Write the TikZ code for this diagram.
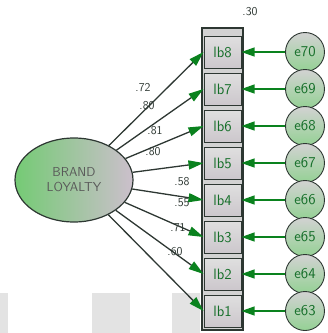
\documentclass[tikz,border=0pt]{standalone}
\usetikzlibrary{arrows.meta,shapes.geometric}
\definecolor{dg}{RGB}{20,110,40}
\definecolor{ag}{RGB}{10,130,30}
\definecolor{lc}{RGB}{45,55,50}
\tikzset{
  obs/.style={draw=lc, line width=1pt, minimum width=37pt, minimum height=32pt, inner sep=0pt,
    top color=gray!25, bottom color=violet!10!gray!40, text=dg, font=\sffamily\fontsize{15}{15}\selectfont},
  err/.style={circle, draw=lc, line width=0.9pt, minimum size=39pt, inner sep=0pt,
    top color=gray!35, bottom color=green!40!gray!60, text=dg, font=\sffamily\fontsize{15}{15}\selectfont},
  lat/.style={ellipse, draw=lc, line width=1.2pt, minimum width=118pt, minimum height=84pt,
    left color=green!45!gray!75, right color=violet!25!gray!40, text=gray!70!black,
    font=\sffamily\fontsize{13}{15}\selectfont, align=center, inner sep=0pt},
  load/.style={lc, line width=1.3pt, -{Triangle[length=15pt,width=9pt,fill=ag,color=ag]}},
  errarr/.style={ag, line width=1.2pt, -{Triangle[length=13pt,width=9pt]}},
  lbl/.style={font=\sffamily\fontsize{12}{12}\selectfont, text=lc, inner sep=0pt},
  blk/.style={fill=gray!22, draw=none}
}
\begin{document}
\begin{tikzpicture}[x=1pt,y=-1pt]
\useasboundingbox (0,0) rectangle (328,333);
\fill[blk] (0,293) rectangle (8,333);
\fill[blk] (92,293) rectangle (130,333);
\fill[blk] (172,293) rectangle (200,333);
\node[draw=lc, line width=1.4pt, fill=gray!35, minimum width=41pt, minimum height=302pt, inner sep=0pt] (col) at (222.5,179) {};
\node[lat] (bl) at (74,180) {BRAND\\LOYALTY};
\foreach \i/\y/\e in {8/52/70,7/89/69,6/126/68,5/163/67,4/200/66,3/237/65,2/274/64,1/311/63}{
  \node[obs] (lb\i) at (222.5,\y) {lb\i};
  \node[err] (e\e) at (305,\y) {e\e};
  \draw[errarr] (e\e) -- (lb\i.east);
  \draw[load] (bl) -- (lb\i.west);
}
\node[lbl] (r2) at (250,12) {.30};
\node[lbl] (l8) at (143,88) {.72};
\node[lbl] (l7) at (147,106) {.80};
\node[lbl] (l6) at (155,131) {.81};
\node[lbl] (l5) at (153,152) {.80};
\node[lbl] (l4) at (182,182) {.58};
\node[lbl] (l3) at (182,203) {.55};
\node[lbl] (l2) at (178,228) {.71};
\node[lbl] (l1) at (175,252) {.60};
\end{tikzpicture}
\end{document}
